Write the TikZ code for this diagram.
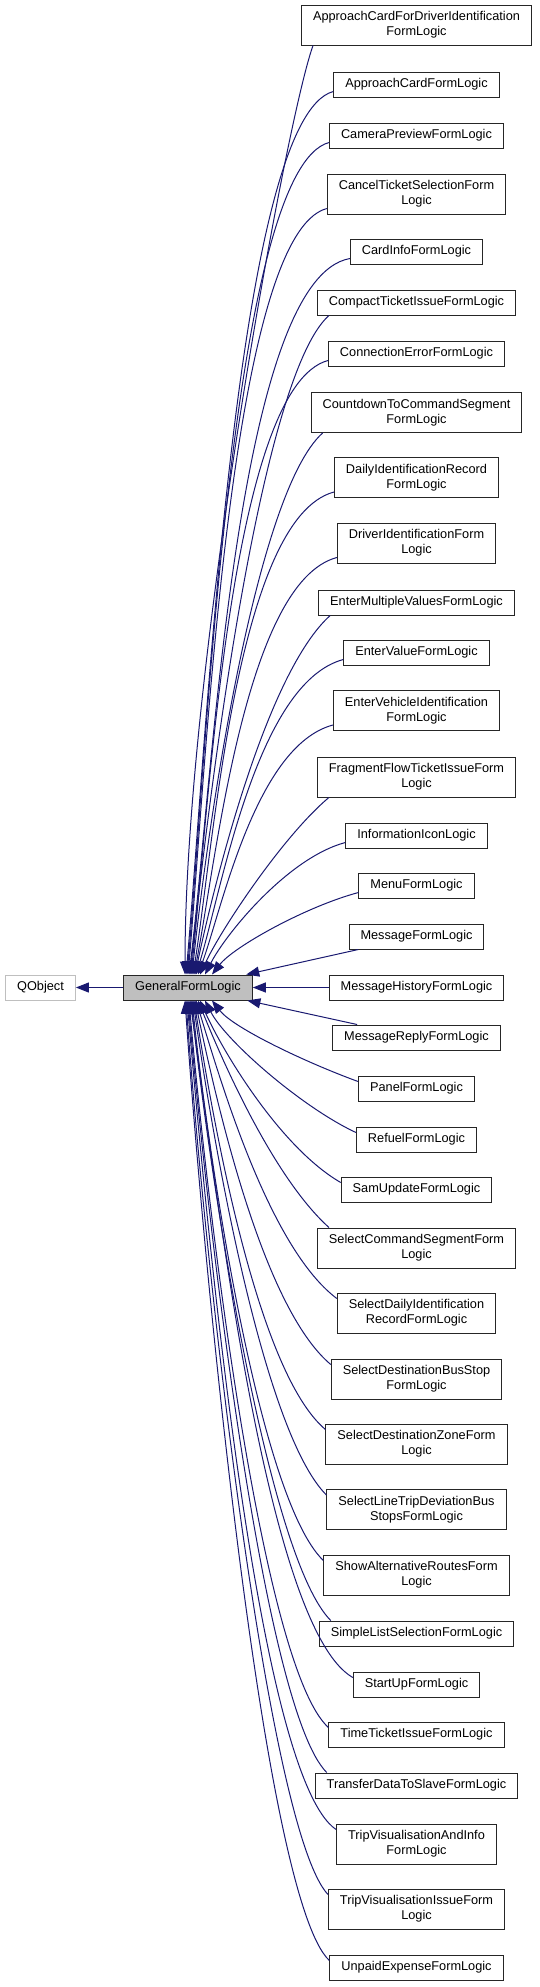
\documentclass[tikz,border=0pt]{standalone}
\usepackage{fontspec}
\setmainfont{Liberation Sans}
\usepackage{xcolor}
\usepackage{tikz}
\usetikzlibrary{arrows.meta,positioning,calc}
\definecolor{edgeblue}{HTML}{191970}
\definecolor{boxgray}{HTML}{BFBFBF}
\newcommand{\clsfont}{\fontsize{12.75}{15}\selectfont}

\begin{document}
\begin{tikzpicture}[
    x=1pt, y=1pt,
    every node/.style = {font=\clsfont, inner xsep=11.5pt, inner ysep=2pt, minimum height=25pt, align=center},
    cls/.style = {draw=black!85, line width=1pt},
    two/.style = {minimum height=40pt},
    inh/.style = {draw=edgeblue, line width=1pt, -{Triangle[length=13pt,width=10pt]}}
  ]
  \useasboundingbox (0,0) rectangle (539,-1987);

  % 基类
  \node[draw=boxgray, line width=1pt] (qobj) at (40.5,-987.5) {QObject};
  \node[cls, fill=boxgray] (gfl) at (188,-987.5) {GeneralFormLogic};
  \draw[inh] (gfl) -- (qobj);

  % 子类
  \node[cls, two] (acdi) at (416.5,-25) {ApproachCardForDriverIdentification\\FormLogic};
  \node[cls] (acf) at (416.5,-84.5) {ApproachCardFormLogic};
  \node[cls] (cpf) at (416.5,-135.5) {CameraPreviewFormLogic};
  \node[cls, two] (cts) at (416.5,-194) {CancelTicketSelectionForm\\Logic};
  \node[cls] (cif) at (416.5,-251.5) {CardInfoFormLogic};
  \node[cls] (ctif) at (416.5,-302.5) {CompactTicketIssueFormLogic};
  \node[cls] (cef) at (416.5,-353.5) {ConnectionErrorFormLogic};
  \node[cls, two] (ctcs) at (416.5,-412.5) {CountdownToCommandSegment\\FormLogic};
  \node[cls, two] (dir) at (416.5,-477.5) {DailyIdentificationRecord\\FormLogic};
  \node[cls, two] (dif) at (416.5,-543) {DriverIdentificationForm\\Logic};
  \node[cls] (emv) at (416.5,-602.5) {EnterMultipleValuesFormLogic};
  \node[cls] (ev) at (416.5,-652.5) {EnterValueFormLogic};
  \node[cls, two] (evi) at (416.5,-710.5) {EnterVehicleIdentification\\FormLogic};
  \node[cls, two] (fft) at (416.5,-777) {FragmentFlowTicketIssueForm\\Logic};
  \node[cls] (iil) at (416.5,-835.5) {InformationIconLogic};
  \node[cls] (mnf) at (416.5,-885.5) {MenuFormLogic};
  \node[cls] (msg) at (416.5,-936.5) {MessageFormLogic};
  \node[cls] (mhf) at (416.5,-987.5) {MessageHistoryFormLogic};
  \node[cls] (mrf) at (416.5,-1037.5) {MessageReplyFormLogic};
  \node[cls] (pf) at (416.5,-1088.5) {PanelFormLogic};
  \node[cls] (rf) at (416.5,-1139.5) {RefuelFormLogic};
  \node[cls] (suf) at (416.5,-1189.5) {SamUpdateFormLogic};
  \node[cls, two] (scs) at (416.5,-1248) {SelectCommandSegmentForm\\Logic};
  \node[cls, two] (sdi) at (416.5,-1313) {SelectDailyIdentification\\RecordFormLogic};
  \node[cls, two] (sdb) at (416.5,-1379) {SelectDestinationBusStop\\FormLogic};
  \node[cls, two] (sdz) at (416.5,-1444) {SelectDestinationZoneForm\\Logic};
  \node[cls, two] (sltd) at (416.5,-1509.5) {SelectLineTripDeviationBus\\StopsFormLogic};
  \node[cls, two] (sar) at (416.5,-1575) {ShowAlternativeRoutesForm\\Logic};
  \node[cls] (sls) at (416.5,-1633.5) {SimpleListSelectionFormLogic};
  \node[cls] (stu) at (416.5,-1684.5) {StartUpFormLogic};
  \node[cls] (tti) at (416.5,-1734.5) {TimeTicketIssueFormLogic};
  \node[cls] (tds) at (416.5,-1785.5) {TransferDataToSlaveFormLogic};
  \node[cls, two] (tvai) at (416.5,-1844) {TripVisualisationAndInfo\\FormLogic};
  \node[cls, two] (tvi) at (416.5,-1909) {TripVisualisationIssueForm\\Logic};
  \node[cls] (uef) at (416.5,-1967.5) {UnpaidExpenseFormLogic};

  % 上半部分的继承箭头
  \draw[inh] ([xshift=12pt]acdi.south west) to[out=250, in=90, out distance=80pt, in distance=300pt] ([xshift=-3pt]gfl.north);
  \draw[inh] ([yshift=6pt]acf.south west) to[out=195, in=85, out distance=100pt, in distance=248pt] ([xshift=-2pt]gfl.north);
  \draw[inh] ([yshift=6pt]cpf.south west) to[out=195, in=85, out distance=100pt, in distance=233pt] ([xshift=-1pt]gfl.north);
  \draw[inh] ([yshift=6pt]cts.south west) to[out=195, in=85, out distance=100pt, in distance=215pt] (gfl.north);
  \draw[inh] ([yshift=6pt]cif.south west) to[out=190, in=83, out distance=115pt, in distance=200pt] ([xshift=1pt]gfl.north);
  \draw[inh] ([xshift=12pt]ctif.south west) to[out=222, in=84, out distance=92pt, in distance=185pt] ([xshift=2pt]gfl.north);
  \draw[inh] ([yshift=6pt]cef.south west) to[out=195, in=84, out distance=100pt, in distance=172pt] ([xshift=3pt]gfl.north);
  \draw[inh] ([xshift=12pt]ctcs.south west) to[out=222, in=84, out distance=90pt, in distance=152pt] ([xshift=4pt]gfl.north);
  \draw[inh] ([yshift=6pt]dir.south west) to[out=195, in=81, out distance=100pt, in distance=135pt] ([xshift=5pt]gfl.north);
  \draw[inh] ([yshift=6pt]dif.south west) to[out=195, in=79, out distance=95pt, in distance=117pt] ([xshift=6pt]gfl.north);
  \draw[inh] ([xshift=12pt]emv.south west) to[out=222, in=78, out distance=85pt, in distance=100pt] ([xshift=7pt]gfl.north);
  \draw[inh] ([yshift=6pt]ev.south west) to[out=195, in=73, out distance=90pt, in distance=88pt] ([xshift=8pt]gfl.north);
  \draw[inh] ([yshift=6pt]evi.south west) to[out=195, in=70, out distance=80pt, in distance=70pt] ([xshift=10pt]gfl.north);
  \draw[inh] ([xshift=12pt]fft.south west) to[out=220, in=65, out distance=60pt, in distance=50pt] ([xshift=12pt]gfl.north);
  \draw[inh] ([yshift=6pt]iil.south west) to[out=195, in=63, out distance=60pt, in distance=45pt] ([xshift=17pt]gfl.north);
  \draw[inh] ([yshift=6pt]mnf.south west) to[out=195, in=52, out distance=55pt, in distance=35pt] ([xshift=24pt]gfl.north);

  % 中间三个
  \draw[inh] (msg) -- (gfl);
  \draw[inh] (mhf) -- (gfl);
  \draw[inh] (mrf) -- (gfl);

  % 下半部分的继承箭头
  \draw[inh] ([yshift=-6pt]pf.north west) to[out=160, in=-52, out distance=55pt, in distance=35pt] ([xshift=24pt]gfl.south);
  \draw[inh] ([yshift=-6pt]rf.north west) to[out=155, in=-63, out distance=60pt, in distance=45pt] ([xshift=17pt]gfl.south);
  \draw[inh] ([yshift=-6pt]suf.north west) to[out=150, in=-66, out distance=70pt, in distance=55pt] ([xshift=12pt]gfl.south);
  \draw[inh] ([xshift=12pt]scs.north west) to[out=138, in=-68, out distance=75pt, in distance=65pt] ([xshift=10pt]gfl.south);
  \draw[inh] ([yshift=-6pt]sdi.north west) to[out=143, in=-73, out distance=85pt, in distance=84pt] ([xshift=8pt]gfl.south);
  \draw[inh] ([yshift=-6pt]sdb.north west) to[out=140, in=-78, out distance=90pt, in distance=102pt] ([xshift=7pt]gfl.south);
  \draw[inh] ([yshift=-6pt]sdz.north west) to[out=140, in=-81, out distance=90pt, in distance=120pt] ([xshift=6pt]gfl.south);
  \draw[inh] ([yshift=-6pt]sltd.north west) to[out=135, in=-82, out distance=90pt, in distance=139pt] ([xshift=5pt]gfl.south);
  \draw[inh] ([yshift=-6pt]sar.north west) to[out=136, in=-84, out distance=90pt, in distance=157pt] ([xshift=4pt]gfl.south);
  \draw[inh] ([xshift=12pt]sls.north west) to[out=135, in=-84, out distance=90pt, in distance=174pt] ([xshift=3pt]gfl.south);
  \draw[inh] ([yshift=-6pt]stu.north west) to[out=150, in=-82, out distance=100pt, in distance=190pt] ([xshift=2pt]gfl.south);
  \draw[inh] ([yshift=-6pt]tti.north west) to[out=138, in=-85, out distance=90pt, in distance=204pt] ([xshift=1pt]gfl.south);
  \draw[inh] ([xshift=12pt]tds.north west) to[out=135, in=-85, out distance=90pt, in distance=216pt] (gfl.south);
  \draw[inh] ([yshift=-6pt]tvai.north west) to[out=146, in=-85, out distance=95pt, in distance=232pt] ([xshift=-1pt]gfl.south);
  \draw[inh] ([yshift=-6pt]tvi.north west) to[out=133, in=-86, out distance=90pt, in distance=250pt] ([xshift=-2pt]gfl.south);
  \draw[inh] ([yshift=-6pt]uef.north west) to[out=137, in=-86, out distance=90pt, in distance=269pt] ([xshift=-3pt]gfl.south);
\end{tikzpicture}
\end{document}
